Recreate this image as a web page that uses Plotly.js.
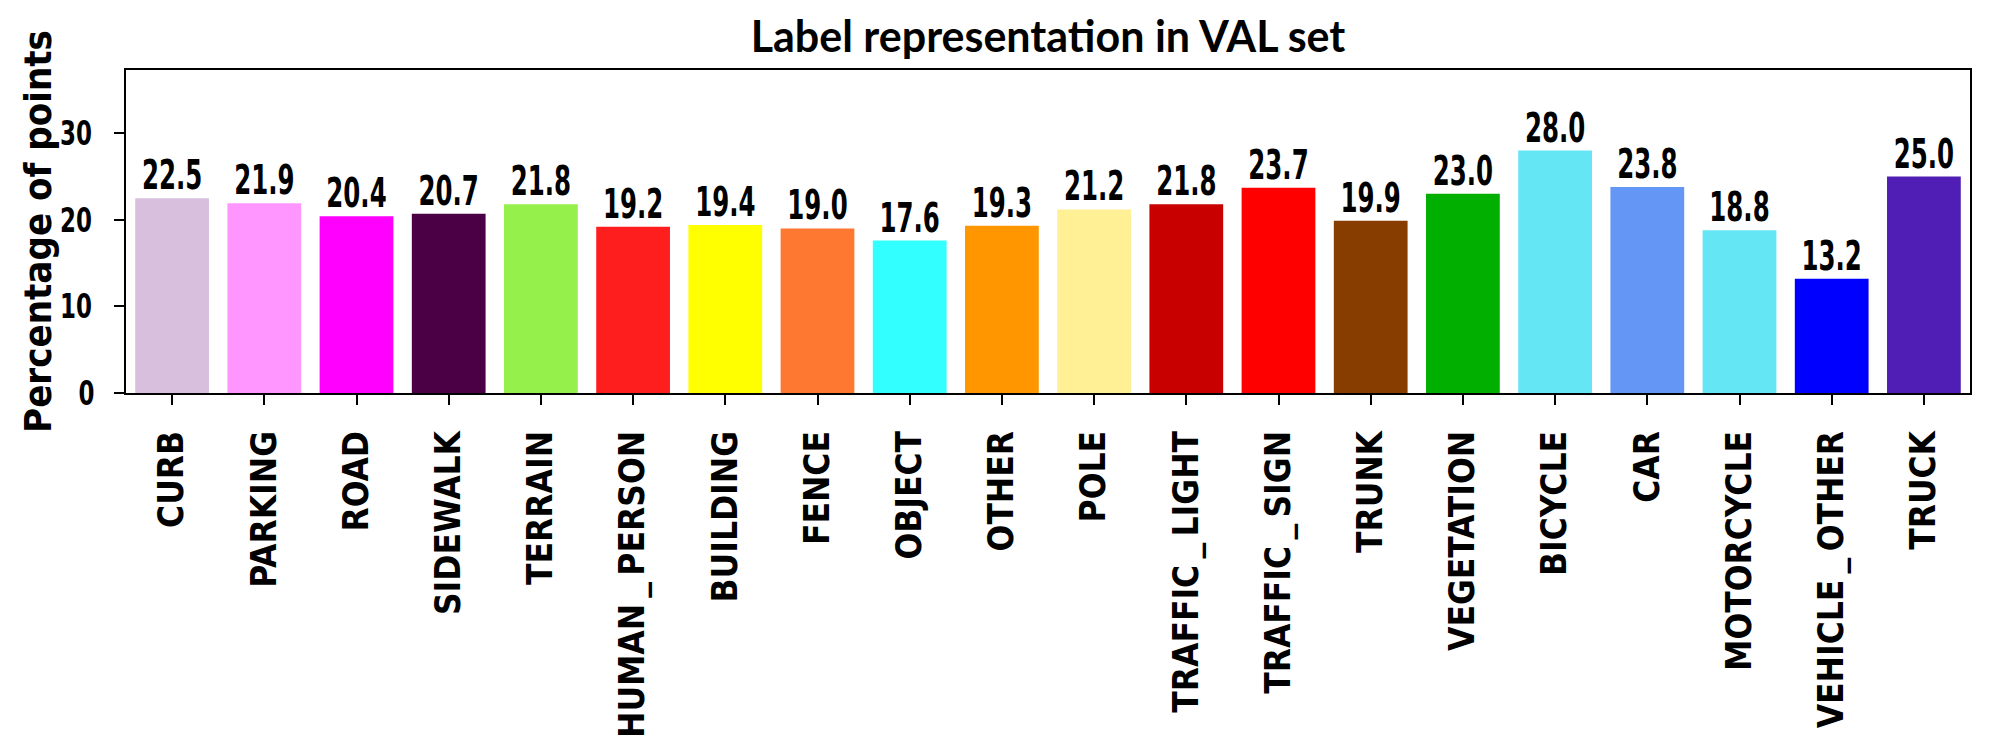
<!DOCTYPE html>
<html>
<head>
<meta charset="utf-8">
<script src="https://cdn.plot.ly/plotly-3.0.1.min.js"></script>
<style>
  html, body { margin: 0; padding: 0; background: #fff; }
  #chart { width: 1990px; height: 740px; }
</style>
</head>
<body>
<div id="chart"></div>
<script>
const categories = ["CURB", "PARKING", "ROAD", "SIDEWALK", "TERRAIN", "HUMAN_PERSON", "BUILDING", "FENCE", "OBJECT", "OTHER", "POLE", "TRAFFIC_LIGHT", "TRAFFIC_SIGN", "TRUNK", "VEGETATION", "BICYCLE", "CAR", "MOTORCYCLE", "VEHICLE_OTHER", "TRUCK"];
const percentages = [22.5, 21.9, 20.4, 20.7, 21.8, 19.2, 19.4, 19.0, 17.6, 19.3, 21.2, 21.8, 23.7, 19.9, 23.0, 28.0, 23.8, 18.8, 13.2, 25.0];
const barColors = ["#D8BFDE", "#FF96FF", "#FF00FF", "#4B0046", "#96F04B", "#FF1E1E", "#FFFF00", "#FF7832", "#32FFFF", "#FF9600", "#FFF096", "#C80000", "#FF0000", "#873C00", "#00AF00", "#64E6F5", "#6496F5", "#64E6F5", "#0000FF", "#501EB4"];
const yTickVals = [0, 10, 20, 30];
const titleText = "Label representation in VAL set";
const yTitleText = "Percentage of points";

// tick labels mimic the LaTeX spacing around the underscore
const tickText = categories.map(c => c.replace(/_/g, "\u2009_\u2009"));

const narrowFont = "'DejaVu Sans Condensed', 'DejaVu Sans', sans-serif";

const trace = {
  type: "bar",
  x: categories.map((c, i) => i),
  y: percentages,
  width: 0.8,
  marker: { color: barColors, line: { width: 0 } },
  texttemplate: "%{y:.1f}",
  textposition: "outside",
  constraintext: "none",
  cliponaxis: false,
  textfont: { family: narrowFont, size: 40, color: "#000", weight: 700 },
  hoverinfo: "skip"
};

const layout = {
  width: 1990,
  height: 740,
  margin: { l: 126, r: 20, t: 70, b: 347 },
  paper_bgcolor: "#fff",
  plot_bgcolor: "#fff",
  showlegend: false,
  bargap: 0.2,
  title: {
    text: titleText,
    font: { family: "Lato, 'DejaVu Sans', sans-serif", size: 43, color: "#000", weight: 700 },
    x: 0.5, xref: "paper", xanchor: "center",
    y: 1 - 37 / 740, yref: "container", yanchor: "middle"
  },
  xaxis: {
    range: [-0.5, 19.5],
    tickmode: "array",
    tickvals: categories.map((c, i) => i),
    ticktext: tickText,
    tickangle: -90,
    ticks: "outside", ticklen: 10, tickwidth: 2, tickcolor: "#000",
    ticklabelstandoff: 12,
    tickfont: { family: narrowFont, size: 35, color: "#000", weight: 700 },
    showline: true, linecolor: "#000", linewidth: 2, mirror: true,
    showgrid: false, zeroline: false, fixedrange: true
  },
  yaxis: {
    range: [0, 37.3],
    tickmode: "array",
    tickvals: yTickVals,
    ticktext: yTickVals.map(String),
    ticks: "outside", ticklen: 10, tickwidth: 2, tickcolor: "#000",
    ticklabelstandoff: 10,
    tickfont: { family: narrowFont, size: 34, color: "#000", weight: 700 },
    showline: true, linecolor: "#000", linewidth: 2, mirror: true,
    showgrid: false, zeroline: false, fixedrange: true,
    title: { text: yTitleText, font: { family: narrowFont, size: 38, color: "#000", weight: 700 }, standoff: 0 }
  }
};

// horizontally compress number labels (narrow, tall digits as in the reference)
function squeeze(selector, sx, dy) {
  document.querySelectorAll(selector).forEach(el => {
    const bb = el.getBBox();
    const cx = bb.x + bb.width / 2;
    const prev = el.getAttribute("transform") || "";
    el.setAttribute("transform", prev + " translate(" + cx + "," + dy + ") scale(" + sx + ",1) translate(" + (-cx) + ",0)");
  });
}

Plotly.newPlot("chart", [trace], layout, { displayModeBar: false, staticPlot: true }).then(() => {
  squeeze("#chart text.bartext", 0.68, 3);
  squeeze("#chart .ytick text", 0.75, 0);
  const yt = document.querySelector("#chart .ytitle");
  if (yt) {
    const prev = yt.getAttribute("transform") || "";
    yt.setAttribute("transform", "translate(9,0) " + prev);
  }
});
</script>
</body>
</html>
